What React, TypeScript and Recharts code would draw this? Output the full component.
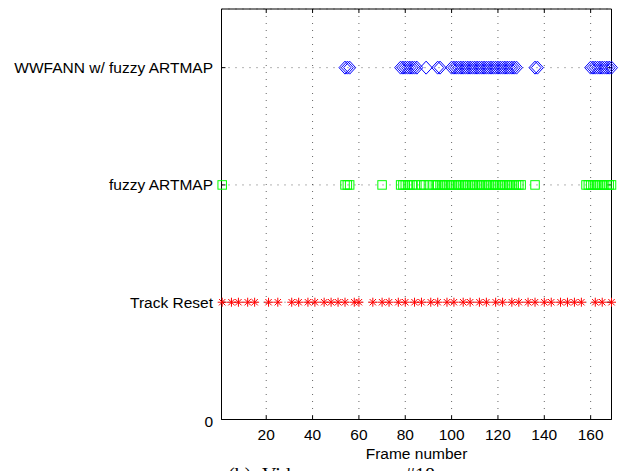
import React from 'react';
import {
  ScatterChart,
  Scatter,
  XAxis,
  YAxis,
  CartesianGrid,
  ReferenceLine,
  ReferenceArea,
  Label,
} from 'recharts';

// Axis ticks and row labels
const frameTicks = [20, 40, 60, 80, 100, 120, 140, 160];
const rowTicks = [0, 1, 2, 3];
const rowLabels = ['0', 'Track Reset', 'fuzzy ARTMAP', 'WWFANN w/ fuzzy ARTMAP'];

// Frames at which each event was recorded
const trackResetFrames = [
  1, 5, 8, 12, 15,
  21, 25,
  31, 34, 38, 41, 45, 48, 51, 54,
  58, 60,
  66, 70, 73, 77, 80, 84, 87, 91, 94, 98, 101, 105, 108, 112, 115, 119, 122,
  126, 129, 133, 136, 140, 143, 147, 150, 153, 156,
  162, 165, 169,
];

const fuzzyArtmapFrames = [
  1,
  54, 55, 56,
  70,
  78, 79, 80, 81, 82, 83, 85, 87, 88, 90, 92, 93, 94, 95, 96, 97, 98, 99, 100,
  101, 102, 103, 104, 105, 106, 107, 108, 109, 110, 111, 112, 113, 114, 115,
  116, 117, 118, 119, 120, 121, 122, 123, 124, 125, 126, 127, 128, 129, 130,
  136,
  158, 159, 160, 161, 162, 163, 164, 165, 166, 167, 168, 169,
];

const wwfannFrames = [
  54, 55, 56,
  78, 79, 80, 81, 82, 83, 84, 85,
  89,
  94, 95,
  100, 101, 102, 103, 104, 105, 106, 107, 108, 109, 110, 111, 112, 113, 114,
  115, 116, 117, 118, 119, 120, 121, 122, 123, 124, 125, 126, 127, 128,
  136, 137,
  160, 161, 162, 163, 164, 165, 166, 167, 168, 169,
];

const X_DOMAIN: [number, number] = [0.7, 169];
const Y_DOMAIN: [number, number] = [0, 3.5];
const TICK_LEN_Y = 0.034; // inward x-tick length in row units
const TICK_LEN_X = 1.7; // inward y-tick length in frame units

const FONT = '"Liberation Sans", Arial, Helvetica, sans-serif';
const FONT_SIZE = 15.5;

const toPoints = (frames: number[], row: number) =>
  frames.map((frame) => ({ frame, row }));

const trackResetData = toPoints(trackResetFrames, 1);
const fuzzyArtmapData = toPoints(fuzzyArtmapFrames, 2);
const wwfannData = toPoints(wwfannFrames, 3);

const AsteriskMarker = (props: any) => {
  const { cx, cy } = props;
  const r = 4.5;
  const d = 3.2;
  return (
    <g stroke="#ff0000" strokeWidth={1} fill="none">
      <line x1={cx - r} y1={cy} x2={cx + r} y2={cy} />
      <line x1={cx} y1={cy - r} x2={cx} y2={cy + r} />
      <line x1={cx - d} y1={cy - d} x2={cx + d} y2={cy + d} />
      <line x1={cx - d} y1={cy + d} x2={cx + d} y2={cy - d} />
    </g>
  );
};

const SquareMarker = (props: any) => {
  const { cx, cy } = props;
  const h = 4.25;
  return (
    <rect
      x={cx - h}
      y={cy - h}
      width={2 * h}
      height={2 * h}
      stroke="#00ff00"
      strokeWidth={1}
      fill="none"
    />
  );
};

const DiamondMarker = (props: any) => {
  const { cx, cy } = props;
  const w = 6;
  const h = 6.5;
  return (
    <polygon
      points={`${cx},${cy - h} ${cx + w},${cy} ${cx},${cy + h} ${cx - w},${cy}`}
      stroke="#0000ff"
      strokeWidth={1}
      fill="none"
    />
  );
};

const RowTick = (props: any) => {
  const { x, y, payload } = props;
  const idx = rowTicks.indexOf(payload.value);
  return (
    <text
      x={x}
      y={y}
      dy={payload.value === 0 ? 7 : 5.5}
      textAnchor="end"
      fontFamily={FONT}
      fontSize={FONT_SIZE}
      fill="#000"
    >
      {idx >= 0 ? rowLabels[idx] : ''}
    </text>
  );
};

const FrameTick = (props: any) => {
  const { x, y, payload } = props;
  return (
    <text
      x={x}
      y={y}
      dy={20.5}
      textAnchor="middle"
      fontFamily={FONT}
      fontSize={FONT_SIZE}
      fill="#000"
    >
      {payload.value}
    </text>
  );
};

const FrameAxisLabel = (props: any) => {
  const vb = props.viewBox || { x: 221.5, y: 419.5, width: 390, height: 39.5 };
  return (
    <text
      x={vb.x + vb.width / 2}
      y={vb.y + 39.5}
      textAnchor="middle"
      fontFamily={FONT}
      fontSize={FONT_SIZE}
      fill="#000"
    >
      Frame number
    </text>
  );
};

export default function App() {
  return (
    <div
      style={{
        position: 'absolute',
        left: 0,
        top: 0,
        width: 623,
        height: 471,
        overflow: 'hidden',
        background: '#fff',
      }}
    >
      <ScatterChart
        width={623}
        height={471}
        margin={{ top: 9, right: 11.5, bottom: 12, left: 0 }}
      >
        <CartesianGrid
          stroke="#000"
          strokeOpacity={0.6}
          strokeDasharray="1 6"
        />
        <XAxis
          type="number"
          dataKey="frame"
          domain={X_DOMAIN}
          ticks={frameTicks}
          height={39.5}
          tickSize={0}
          tickMargin={0}
          tickLine={false}
          axisLine={{ stroke: '#000', strokeWidth: 1 }}
          tick={<FrameTick />}
        >
          <Label content={<FrameAxisLabel />} />
        </XAxis>
        <YAxis
          type="number"
          dataKey="row"
          domain={Y_DOMAIN}
          ticks={rowTicks}
          width={221.5}
          tickSize={0}
          tickMargin={8.5}
          tickLine={false}
          axisLine={{ stroke: '#000', strokeWidth: 1 }}
          tick={<RowTick />}
        />
        <ReferenceArea
          x1={X_DOMAIN[0]}
          x2={X_DOMAIN[1]}
          y1={Y_DOMAIN[0]}
          y2={Y_DOMAIN[1]}
          fill="none"
          fillOpacity={0}
          stroke="#000"
          strokeWidth={1}
          ifOverflow="visible"
        />
        {frameTicks.map((t) => (
          <ReferenceLine
            key={`xb-${t}`}
            segment={[
              { x: t, y: Y_DOMAIN[0] },
              { x: t, y: Y_DOMAIN[0] + TICK_LEN_Y },
            ]}
            stroke="#000"
            ifOverflow="visible"
          />
        ))}
        {frameTicks.map((t) => (
          <ReferenceLine
            key={`xt-${t}`}
            segment={[
              { x: t, y: Y_DOMAIN[1] },
              { x: t, y: Y_DOMAIN[1] - TICK_LEN_Y },
            ]}
            stroke="#000"
            ifOverflow="visible"
          />
        ))}
        {rowTicks.slice(1).map((r) => (
          <ReferenceLine
            key={`yl-${r}`}
            segment={[
              { x: X_DOMAIN[0], y: r },
              { x: X_DOMAIN[0] + TICK_LEN_X, y: r },
            ]}
            stroke="#000"
            ifOverflow="visible"
          />
        ))}
        {rowTicks.slice(1).map((r) => (
          <ReferenceLine
            key={`yr-${r}`}
            segment={[
              { x: X_DOMAIN[1], y: r },
              { x: X_DOMAIN[1] - TICK_LEN_X, y: r },
            ]}
            stroke="#000"
            ifOverflow="visible"
          />
        ))}
        <Scatter
          name="Track Reset"
          data={trackResetData}
          shape={<AsteriskMarker />}
          isAnimationActive={false}
        />
        <Scatter
          name="fuzzy ARTMAP"
          data={fuzzyArtmapData}
          shape={<SquareMarker />}
          isAnimationActive={false}
        />
        <Scatter
          name="WWFANN w/ fuzzy ARTMAP"
          data={wwfannData}
          shape={<DiamondMarker />}
          isAnimationActive={false}
        />
      </ScatterChart>
      <div
        style={{
          position: 'absolute',
          left: 228,
          top: 464,
          fontFamily: '"Liberation Serif", "Times New Roman", serif',
          fontSize: 20,
          lineHeight: '22px',
          wordSpacing: 6,
          whiteSpace: 'nowrap',
          color: '#000',
        }}
      >
        (b) Video sequence #18
      </div>
    </div>
  );
}
